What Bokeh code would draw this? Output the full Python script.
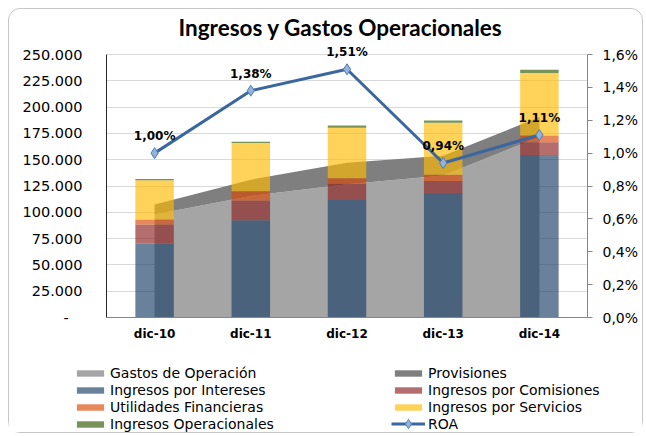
from bokeh.plotting import figure
from bokeh.layouts import column
from bokeh.models import (FactorRange, Range1d, LinearAxis, FixedTicker, Legend, LegendItem,
                          ColumnDataSource, Title, InlineStyleSheet)
from bokeh.core.properties import value
from bokeh.embed import file_html
from bokeh.resources import INLINE

categories = ["dic-10", "dic-11", "dic-12", "dic-13", "dic-14"]
gastos_operacion = [98000, 115500, 126600, 135000, 171500]
provisiones = [9300, 15500, 20600, 18800, 19000]
ingresos_intereses = [70300, 92400, 111700, 118300, 154400]
ingresos_comisiones = [18000, 18700, 15500, 11400, 12300]
utilidades_financieras = [4800, 8800, 5100, 6100, 6400]
ingresos_servicios = [37300, 45900, 48100, 49300, 59200]
ingresos_operacionales = [1200, 1300, 2200, 2200, 3200]
roa = [1.00, 1.38, 1.51, 0.94, 1.11]
roa_labels = ["1,00%", "1,38%", "1,51%", "0,94%", "1,11%"]
left_ticks = [0, 25000, 50000, 75000, 100000, 125000, 150000, 175000, 200000, 225000, 250000]
left_tick_labels = ["-\u00a0\u00a0\u00a0", "25.000", "50.000", "75.000", "100.000", "125.000",
                    "150.000", "175.000", "200.000", "225.000", "250.000"]
right_ticks = [0, 0.2, 0.4, 0.6, 0.8, 1.0, 1.2, 1.4, 1.6]
right_tick_labels = ["0,0%", "0,2%", "0,4%", "0,6%", "0,8%", "1,0%", "1,2%", "1,4%", "1,6%"]

series_names = ["Gastos de Operación", "Provisiones", "Ingresos por Intereses",
                "Ingresos por Comisiones", "Utilidades Financieras", "Ingresos por Servicios",
                "Ingresos Operacionales", "ROA"]
area_colors = ["#a5a5a5", "#7f7f7f"]
bar_colors = ["#1a3d67", "#8c2020", "#dc4700", "#ffba00", "#2e5900"]
BAR_ALPHA = 0.65
LINE_COLOR = "#3b679e"
MARK_FILL = "#95b3d7"
MARK_LINE = "#4a7ebb"

source = ColumnDataSource(dict(
    cat=categories, gastos=gastos_operacion, prov=provisiones,
    intereses=ingresos_intereses, comisiones=ingresos_comisiones,
    utilidades=utilidades_financieras, servicios=ingresos_servicios,
    operacionales=ingresos_operacionales, roa=roa, roa_lbl=roa_labels,
))

# frame: 263 px for 250.000, extended 14 px above for the top data label
Y_MAX = 250000 * 277 / 263
R_MAX = 1.6 * 277 / 263

p = figure(x_range=FactorRange(*categories, range_padding=0), y_range=Range1d(0, Y_MAX),
           width=633, height=341, output_backend="svg", toolbar_location=None,
           min_border_left=97, min_border_right=55, min_border_top=31, min_border_bottom=33)
p.extra_y_ranges = {"roa": Range1d(0, R_MAX)}
p.outline_line_color = None
p.background_fill_color = "white"
p.border_fill_color = None

p.title = Title(text="Ingresos y Gastos Operacionales", align="left", offset=72,
                text_font="Lato", text_font_size="22.5px", text_font_style="bold",
                text_color="black", standoff=0)

areas = p.varea_stack(["gastos", "prov"], x="cat", source=source, color=area_colors)

bars = p.vbar_stack(["intereses", "comisiones", "utilidades", "servicios", "operacionales"],
                    x="cat", width=0.4, source=source, color=bar_colors,
                    fill_alpha=BAR_ALPHA, line_color=None)

p.line(x="cat", y="roa", source=source, y_range_name="roa",
       line_color=LINE_COLOR, line_width=3)
p.scatter(x="cat", y="roa", source=source, y_range_name="roa", marker="diamond",
          size=11, fill_color=MARK_FILL, line_color=MARK_LINE, line_width=1)
p.text(x="cat", y="roa", text="roa_lbl", source=source, y_range_name="roa",
       y_offset=-17, text_align="center", text_baseline="middle",
       text_font=value("DejaVu Sans"), text_font_size="12px", text_font_style="bold",
       text_color="black")

p.xgrid.grid_line_color = None
p.ygrid.grid_line_color = "#d9d9d9"
p.ygrid.ticker = FixedTicker(ticks=left_ticks)

ya = p.yaxis[0]
ya.ticker = FixedTicker(ticks=left_ticks)
ya.bounds = (0, 250000)
ya.major_label_overrides = {t: l for t, l in zip(left_ticks, left_tick_labels)}
ya.major_tick_line_color = None
ya.minor_tick_line_color = None
ya.major_tick_out = 0
ya.major_tick_in = 0
ya.axis_line_color = "#262626"
ya.major_label_standoff = 24
ya.major_label_text_font = "DejaVu Sans"
ya.major_label_text_font_size = "14.5px"
ya.major_label_text_color = "black"

ra = LinearAxis(y_range_name="roa", ticker=FixedTicker(ticks=right_ticks), bounds=(0, 1.6))
ra.major_label_overrides = {t: l for t, l in zip(right_ticks, right_tick_labels)}
ra.axis_line_color = "#868686"
ra.major_tick_line_color = "#868686"
ra.major_tick_out = 5
ra.major_tick_in = 0
ra.minor_tick_line_color = None
ra.major_label_standoff = 10
ra.major_label_text_font = "DejaVu Sans"
ra.major_label_text_font_size = "14px"
ra.major_label_text_color = "black"
p.add_layout(ra, "right")

xa = p.xaxis[0]
xa.axis_line_color = "#868686"
xa.major_tick_line_color = None
xa.major_tick_out = 0
xa.major_label_standoff = 9
xa.major_label_text_font = "DejaVu Sans"
xa.major_label_text_font_size = "12px"
xa.major_label_text_font_style = "bold"
xa.major_label_text_color = "black"

# legend figure: sample glyphs placed outside its visible range, styled like the series
lg = figure(x_range=Range1d(0, 1), y_range=Range1d(0, 1), width=633, height=82,
            output_backend="svg", toolbar_location=None,
            x_axis_location=None, y_axis_location=None,
            min_border_left=0, min_border_right=0, min_border_top=0, min_border_bottom=0)
if "frame_align" in lg.properties():
    lg.frame_align = False
    p.frame_align = False
lg.outline_line_color = None
lg.grid.visible = False
lg.border_fill_color = None

r_areas = [lg.varea(x=[5, 6], y1=[5, 5], y2=[6, 6], fill_color=c) for c in area_colors]
r_bars = [lg.vbar(x=[5], top=[6], bottom=[5], width=1, fill_color=c, fill_alpha=BAR_ALPHA,
                  line_color=None) for c in bar_colors]
r_line = lg.line(x=[5, 6], y=[5, 5], line_color=LINE_COLOR, line_width=3)
r_pts = lg.scatter(x=[5], y=[5], marker="diamond", size=11, fill_color=MARK_FILL,
                   line_color=MARK_LINE, line_width=1)

def add_legend(items, loc, glyph_height=8):
    L = Legend(items=items, location=loc, orientation="vertical",
               glyph_width=34, glyph_height=glyph_height, label_height=17, spacing=0,
               padding=0, margin=0, label_standoff=3,
               label_text_font="DejaVu Sans", label_text_font_size="14px",
               label_text_color="black", border_line_color=None,
               background_fill_alpha=0)
    lg.add_layout(L, "center")

add_legend([
    LegendItem(label=series_names[0], renderers=[r_areas[0]]),
    LegendItem(label=series_names[2], renderers=[r_bars[0]]),
    LegendItem(label=series_names[4], renderers=[r_bars[2]]),
    LegendItem(label=series_names[6], renderers=[r_bars[4]]),
], (64, 0))
add_legend([
    LegendItem(label=series_names[1], renderers=[r_areas[1]]),
    LegendItem(label=series_names[3], renderers=[r_bars[1]]),
    LegendItem(label=series_names[5], renderers=[r_bars[3]]),
], (382, 17))
# ROA item on its own so the diamond marker is drawn at a visible size
add_legend([
    LegendItem(label=series_names[7], renderers=[r_line, r_pts]),
], (382, -3), glyph_height=23)

layout = column(p, lg, spacing=0)
layout.stylesheets = [InlineStyleSheet(css=":host { margin: 8px 0 0 8px; border: 1px solid #c6c6c6; border-radius: 12px; }")]

open("out.html", "w").write(file_html(layout, INLINE))
